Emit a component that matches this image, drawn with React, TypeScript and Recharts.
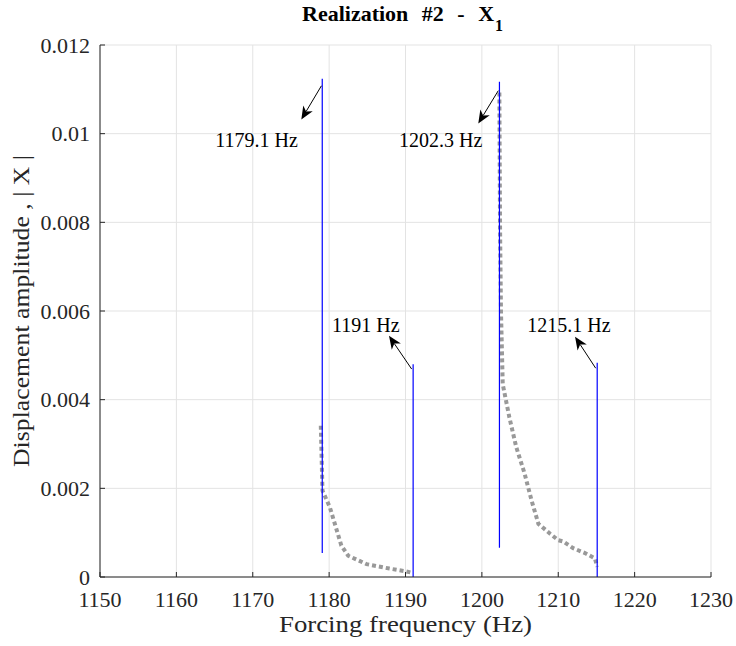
import React from "react";
import {
  CartesianGrid,
  Line,
  LineChart,
  ReferenceDot,
  ReferenceLine,
  XAxis,
  YAxis,
} from "recharts";

const FONT = "'Liberation Serif', 'Times New Roman', serif";
const INK = "#262626";

const xTicks = [1150, 1160, 1170, 1180, 1190, 1200, 1210, 1220, 1230];
const yTicks = [0, 0.002, 0.004, 0.006, 0.008, 0.01, 0.012];

// solid blue resonance markers: [frequency, low amplitude, high amplitude]
const peaks: [number, number, number][] = [
  [1179.1, 0.00054, 0.01124],
  [1191, 0.0, 0.0048],
  [1202.3, 0.00066, 0.01117],
  [1215.1, 0.0, 0.00483],
];

// dotted grey response branches, [frequency, amplitude]
const branchLow: [number, number][] = [
  [1178.91, 0.00341],
  [1179.13, 0.00195],
  [1180.1, 0.00157],
  [1181.6, 0.00071],
  [1182.5, 0.00048],
  [1184.9, 0.00029],
  [1187.9, 0.00019],
  [1190.0, 0.00013],
  [1190.96, 0.00009],
];

const branchHigh: [number, number][] = [
  [1202.29, 0.01093],
  [1202.38, 0.00788],
  [1202.5, 0.006],
  [1202.73, 0.00435],
  [1203.6, 0.0036],
  [1204.5, 0.00293],
  [1205.6, 0.00233],
  [1206.5, 0.00173],
  [1207.4, 0.0012],
  [1208.9, 0.00098],
  [1210.0, 0.00083],
  [1210.65, 0.0008],
  [1211.96, 0.00065],
  [1213.5, 0.00054],
  [1214.8, 0.00042],
  [1215.1, 0.00023],
];

// callouts: tail -> head of arrow, then label centre (all in data units)
const callouts = [
  { value: 1179.1, tail: [1178.99, 0.01108], head: [1176.36, 0.01032], at: [1170.5, 0.00986] },
  { value: 1202.3, tail: [1202.15, 0.01097], head: [1199.53, 0.01023], at: [1194.6, 0.00986] },
  { value: 1191, tail: [1190.81, 0.00469], head: [1187.84, 0.00544], at: [1184.8, 0.00568] },
  { value: 1215.1, tail: [1214.9, 0.00471], head: [1212.2, 0.00542], at: [1211.4, 0.00568] },
];

const toPoints = (pts: [number, number][]) => pts.map(([x, y]) => ({ x, y }));

const Arrow = (p: any) => {
  const { x1, y1, x2, y2 } = p;
  const a = Math.atan2(y2 - y1, x2 - x1);
  const len = 13;
  const half = 5.5;
  const bx = x2 - len * Math.cos(a);
  const by = y2 - len * Math.sin(a);
  const nx = -Math.sin(a) * half;
  const ny = Math.cos(a) * half;
  const mx = x2 - len * 0.72 * Math.cos(a);
  const my = y2 - len * 0.72 * Math.sin(a);
  return (
    <g>
      <line x1={x1} y1={y1} x2={mx} y2={my} stroke="#000" strokeWidth={1} />
      <polygon
        points={`${x2},${y2} ${bx + nx},${by + ny} ${mx},${my} ${bx - nx},${by - ny}`}
        fill="#000"
      />
    </g>
  );
};

const calloutLabel = (text: string) => (p: any) => (
  <text
    x={p.cx}
    y={p.cy}
    textAnchor="middle"
    dominantBaseline="central"
    fontFamily={FONT}
    fontSize={20}
    fill="#000"
  >
    {text}
  </text>
);

// axis titles are drawn a bit wider than the plain font, so stretch them
const xTitle = (p: any) => {
  const vb = p.viewBox;
  return (
    <text
      x={vb.x + vb.width / 2}
      y={632}
      textAnchor="middle"
      fontFamily={FONT}
      fontSize={23}
      fill={INK}
      textLength={253}
      lengthAdjust="spacingAndGlyphs"
    >
      Forcing frequency (Hz)
    </text>
  );
};

const yTitle = (p: any) => {
  const vb = p.viewBox;
  const cx = 29;
  const cy = vb.y + vb.height / 2;
  return (
    <text
      x={cx}
      y={cy}
      transform={`rotate(-90, ${cx}, ${cy})`}
      textAnchor="middle"
      fontFamily={FONT}
      fontSize={23}
      fill={INK}
      textLength={312}
      lengthAdjust="spacingAndGlyphs"
    >
      Displacement amplitude , | X |
    </text>
  );
};

export default function App() {
  return (
    <div
      style={{
        position: "absolute",
        left: 0,
        top: 0,
        width: 736,
        height: 646,
        background: "#fff",
        fontFamily: FONT,
      }}
    >
      <style>{`.recharts-cartesian-axis-tick-value { font-family: ${FONT} !important; }`}</style>
      <svg width={736} height={40} style={{ position: "absolute", left: 0, top: 0 }}>
        <text
          x={302}
          y={21}
          fontFamily={FONT}
          fontWeight="bold"
          fontSize={22}
          fill="#000"
          style={{ wordSpacing: 8 }}
        >
          Realization #2 - X
          <tspan dx={1} dy={10} fontSize={16}>
            1
          </tspan>
        </text>
      </svg>
      <LineChart width={736} height={646} margin={{ top: 45, right: 25, bottom: 0, left: 0 }}>
        <CartesianGrid stroke="#e3e3e3" strokeWidth={1} />
        <XAxis
          type="number"
          dataKey="x"
          domain={[1150, 1230]}
          ticks={xTicks}
          allowDataOverflow
          height={69}
          tickSize={-5}
          tickMargin={19}
          stroke={INK}
          tick={{ fill: INK, fontSize: 22 }}
          label={{ content: xTitle }}
        />
        <YAxis
          type="number"
          domain={[0, 0.012]}
          ticks={yTicks}
          allowDataOverflow
          width={100}
          tickSize={-5}
          tickMargin={15}
          stroke={INK}
          tickFormatter={(v: number) => (v === 0 ? "0" : String(+v.toFixed(3)))}
          tick={{ fill: INK, fontSize: 22 }}
          label={{ content: yTitle }}
        />
        <Line
          data={toPoints(branchLow)}
          dataKey="y"
          stroke="#999999"
          strokeWidth={4}
          strokeDasharray="4 3"
          dot={false}
          isAnimationActive={false}
        />
        <Line
          data={toPoints(branchHigh)}
          dataKey="y"
          stroke="#999999"
          strokeWidth={4}
          strokeDasharray="4 3"
          dot={false}
          isAnimationActive={false}
        />
        {peaks.map(([f, lo, hi]) => (
          <Line
            key={`peak-${f}`}
            data={[
              { x: f, y: lo },
              { x: f, y: hi },
            ]}
            dataKey="y"
            stroke="#0000ff"
            strokeWidth={1.2}
            dot={false}
            isAnimationActive={false}
          />
        ))}
        {callouts.map((c) => (
          <ReferenceLine
            key={`arrow-${c.value}`}
            segment={[
              { x: c.tail[0], y: c.tail[1] },
              { x: c.head[0], y: c.head[1] },
            ]}
            shape={Arrow}
          />
        ))}
        {callouts.map((c) => (
          <ReferenceDot
            key={`label-${c.value}`}
            x={c.at[0]}
            y={c.at[1]}
            shape={calloutLabel(`${c.value} Hz`)}
          />
        ))}
      </LineChart>
    </div>
  );
}
